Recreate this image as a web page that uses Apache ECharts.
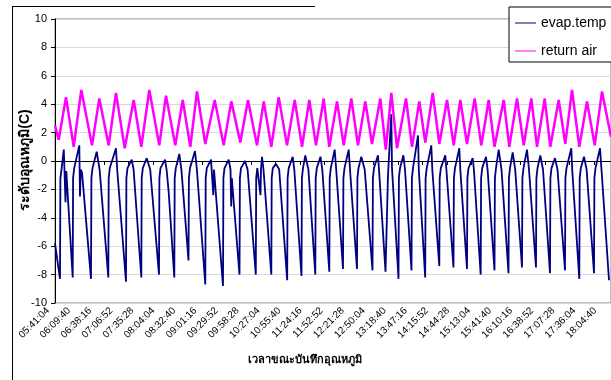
<!DOCTYPE html>
<html>
<head>
<meta charset="utf-8">
<script src="https://cdn.jsdelivr.net/npm/echarts@6/dist/echarts.min.js"></script>
<style>
  html, body { margin: 0; padding: 0; background: #fff; }
  #chart { width: 611px; height: 380px; }
</style>
</head>
<body>
<div id="chart"></div>
<script>
// x values are seconds elapsed since 05:41:04 (first printed time)
var labelStep = 1716 // 28:36 between printed times
var tickStep = 2002 // tick marks sit on their own spacing
var xEnd = 45414

var timeLabels = ['05:41:04', '06:09:40', '06:38:16', '07:06:52', '07:35:28', '08:04:04', '08:32:40',
  '09:01:16', '09:29:52', '09:58:28', '10:27:04', '10:55:40', '11:24:16', '11:52:52', '12:21:28',
  '12:50:04', '13:18:40', '13:47:16', '14:15:52', '14:44:28', '15:13:04', '15:41:40', '16:10:16',
  '16:38:52', '17:07:28', '17:36:04', '18:04:40']

var evapSec = [0, 408, 441, 531, 719, 858, 923, 1446, 1478, 1568, 1985, 2042, 2099, 2205,
  2940, 2973, 3063, 3406, 3643, 4354, 4386, 4476, 4982, 5080, 5799, 5832, 5922, 6265, 6420,
  7049, 7082, 7172, 7490, 7776, 8495, 8527, 8617, 8985, 9115, 9287, 9744, 9777, 9867, 10153, 10324,
  10904, 10937, 11027, 11435, 11590, 12276, 12309, 12399, 12742, 12930, 12987,
  13722, 13755, 13845, 14188, 14335, 14392, 14441, 15070, 15103, 15192, 15519, 15732,
  16401, 16434, 16524, 16785, 16826, 16908, 17030, 17667, 17700, 17790, 18051, 18313,
  18966, 18999, 19088, 19415, 19546, 20134, 20167, 20257, 20445, 20698,
  21261, 21294, 21384, 21686, 21833, 22405, 22438, 22527, 22846, 22968,
  23524, 23557, 23646, 23989, 24096, 24667, 24700, 24790, 25019, 25296,
  25933, 25966, 26056, 26383, 26464, 26995, 27199, 27469, 27526, 27608,
  28057, 28090, 28180, 28457, 28588, 29119, 29152, 29241, 29650, 29715,
  30238, 30271, 30361, 30736, 30818, 31390, 31422, 31512, 31880, 31969,
  32549, 32582, 32672, 33023, 33105, 33652, 33685, 33774, 34118, 34216,
  34771, 34804, 34894, 35204, 35335, 35898, 35931, 36021, 36241, 36470,
  37042, 37075, 37164, 37385, 37589, 38145, 38177, 38267, 38553, 38716,
  39288, 39321, 39411, 39640, 39860, 40432, 40464, 40554, 40840, 41044,
  41657, 41689, 41779, 42171, 42245, 42825, 42857, 42948, 43209, 43421,
  44026, 44058, 44148, 44516, 44638, 45251]
var evapTemp = [-5.8, -8.3, -1.2, -0.6, 0.8, -2.9, -0.7, -8.2, -1.2, -0.5, 1.1, -2.5, -0.6, -0.8,
  -8.3, -1.2, -0.5, 0.65, -0.6, -8.2, -1.2, -0.5, 0.9, -0.6, -8.5, -1.2, -0.5, 0.1, -0.6,
  -8.2, -1.2, -0.5, 0.2, -0.6, -8.0, -1.2, -0.5, 0.1, -0.6, -2.2, -8.2, -1.2, -0.5, 0.5, -0.6,
  -7.0, -1.2, -0.5, 0.7, -0.6, -8.7, -1.2, -0.5, 0.1, -2.4, -0.6,
  -8.8, -1.2, -0.5, 0.1, -0.6, -3.2, -1.2, -8.0, -1.2, -0.5, 0.0, -0.6,
  -8.0, -1.2, -0.5, -2.4, -0.6, 0.3, -0.6, -8.0, -1.2, -0.5, -0.2, -0.6,
  -8.4, -1.2, -0.5, 0.3, -0.6, -8.1, -1.2, -0.5, 0.4, -0.6,
  -8.0, -1.2, -0.5, 0.3, -0.6, -7.8, -1.2, -0.5, 0.8, -0.6,
  -7.6, -1.2, -0.5, 0.8, -0.6, -7.6, -1.2, -0.5, 0.3, -0.6,
  -7.7, -1.2, -0.5, 0.4, -0.6, -7.8, -1.0, 3.3, -0.5, -0.6,
  -8.3, -1.2, -0.5, 0.4, -0.6, -7.7, -1.2, -0.5, 1.8, -0.6,
  -8.2, -1.2, -0.5, 1.1, -0.6, -7.4, -1.2, -0.5, 0.4, -0.6,
  -7.5, -1.2, -0.5, 0.9, -0.6, -7.6, -1.2, -0.5, 0.2, -0.6,
  -8.0, -1.2, -0.5, 0.3, -0.6, -7.7, -1.2, -0.5, 0.8, -0.6,
  -7.9, -1.2, -0.5, 0.6, -0.6, -7.5, -1.2, -0.5, 0.8, -0.6,
  -7.5, -1.2, -0.5, 0.4, -0.6, -7.9, -1.2, -0.5, 0.2, -0.6,
  -7.7, -1.2, -0.5, 0.9, -0.6, -8.3, -1.2, -0.5, 0.3, -0.6,
  -7.9, -1.2, -0.5, 0.9, -0.6, -8.4]

var airSec = [0, 302, 898, 1527, 2148, 3022, 3618, 4386, 4982, 5693, 6428, 7049, 7703, 8519,
  9066, 9826, 10431, 11051, 11599, 12276, 13044, 13779, 14400, 15135, 15764, 16499, 17047,
  17667, 18272, 18950, 19579, 20175, 20771, 21318, 21947, 22405, 23034, 23581, 24202, 24749,
  25345, 25893, 26571, 27020, 27469, 27935, 28670, 29160, 29756, 30246, 30851, 31390, 32019,
  32566, 33105, 33652, 34281, 34820, 35425, 35898, 36650, 37107, 37736, 38284, 38904, 39370,
  39999, 40456, 41142, 41682, 42229, 42825, 43454, 44083, 44679, 45414]
var airTemp = [2.5, 1.5, 4.5, 1.0, 5.0, 1.1, 4.4, 1.1, 4.8, 0.9, 4.3, 1.0, 5.0, 1.1,
  4.6, 1.1, 4.3, 1.0, 4.9, 1.2, 4.3, 1.1, 4.2, 1.3, 4.3, 1.1, 4.2,
  1.0, 4.5, 1.1, 4.3, 1.0, 4.3, 1.1, 4.4, 1.0, 4.2, 1.1, 4.4, 1.1,
  4.2, 1.2, 4.4, 0.8, 4.8, 0.9, 4.4, 1.0, 4.2, 1.3, 4.8, 1.2, 4.3,
  1.1, 4.3, 1.2, 4.4, 1.1, 4.3, 1.0, 4.3, 1.0, 4.4, 1.1, 4.4, 1.0,
  4.4, 1.0, 4.3, 1.2, 5.0, 1.0, 4.2, 1.1, 4.9, 1.7]

function pairs(xs, ys) {
  var out = []
  for (var i = 0; i < xs.length; i++) out.push([xs[i], ys[i]])
  return out
}

function clockLabel(v) {
  var k = Math.round(v / labelStep)
  if (Math.abs(v - k * labelStep) > 1 || k >= timeLabels.length) return ''
  return timeLabels[k]
}

var latin = '"Liberation Sans", Arial, sans-serif'
var thaiFont = '"Liberation Sans", Arial, "DejaVu Sans", sans-serif'

var chart = echarts.init(document.getElementById('chart'))
chart.setOption({
  animation: false,
  backgroundColor: '#fff',
  grid: [{
    left: 55, right: -1, top: 19, bottom: 77,
    show: true, borderColor: '#808080', borderWidth: 1
  }, {
    // label-only grid, nudged left like the spreadsheet's slanted time labels
    left: 48, right: 6, top: 19, bottom: 77
  }],
  legend: {
    orient: 'vertical',
    left: 509, top: 7,
    padding: [9, 6, 4, 6],
    itemGap: 14,
    itemWidth: 21,
    itemHeight: 1,
    icon: 'rect',
    backgroundColor: '#fff',
    borderColor: '#000',
    borderWidth: 1,
    borderRadius: 0,
    textStyle: { color: '#000', fontSize: 14, fontFamily: latin },
    data: ['evap.temp', 'return air']
  },
  xAxis: [{
    type: 'value',
    gridIndex: 0,
    min: 0, max: xEnd,
    interval: tickStep,
    position: 'bottom',
    axisLine: { lineStyle: { color: '#000', width: 1 } },
    axisTick: { show: true, length: 4, lineStyle: { color: '#000' } },
    axisLabel: { show: false },
    splitLine: { show: false }
  }, {
    type: 'value',
    gridIndex: 1,
    min: 0, max: xEnd,
    interval: labelStep,
    position: 'bottom',
    axisLine: { show: false },
    axisTick: { show: false },
    splitLine: { show: false },
    axisLabel: {
      rotate: 45, fontSize: 10, color: '#000', margin: 6,
      fontFamily: latin,
      formatter: clockLabel
    }
  }],
  yAxis: [{
    type: 'value',
    gridIndex: 0,
    min: -10, max: 10, interval: 2,
    axisLine: { show: true, lineStyle: { color: '#000' } },
    axisTick: { show: true, length: 4, lineStyle: { color: '#000' } },
    axisLabel: { fontSize: 11, color: '#000', margin: 8, fontFamily: latin },
    splitLine: { lineStyle: { color: '#d9d9d9', width: 1 } }
  }, {
    type: 'value',
    gridIndex: 1,
    min: -10, max: 10,
    show: false
  }],
  graphic: [
    { type: 'line', shape: { x1: 12.5, y1: 6, x2: 12.5, y2: 380 }, style: { stroke: '#000', lineWidth: 1 } },
    { type: 'line', shape: { x1: 12, y1: 6.5, x2: 315, y2: 6.5 }, style: { stroke: '#000', lineWidth: 1 } },
    {
      type: 'text', x: 305, y: 360,
      style: { text: 'เวลาขณะบันทึกอุณหภูมิ', font: 'bold 11px ' + thaiFont, fill: '#000', textAlign: 'center', textVerticalAlign: 'middle' }
    },
    {
      type: 'text', x: 25, y: 160, rotation: Math.PI / 2,
      style: { text: 'ระดับอุณหภูมิ(C)', font: 'bold 14px ' + thaiFont, fill: '#000', textAlign: 'center', textVerticalAlign: 'middle' }
    }
  ],
  series: [{
    name: 'evap.temp',
    type: 'line',
    xAxisIndex: 0,
    yAxisIndex: 0,
    data: pairs(evapSec, evapTemp),
    showSymbol: false,
    symbol: 'none',
    lineStyle: { color: '#000080', width: 1.8 },
    itemStyle: { color: '#000080' }
  }, {
    name: 'return air',
    type: 'line',
    xAxisIndex: 0,
    yAxisIndex: 0,
    data: pairs(airSec, airTemp),
    showSymbol: false,
    symbol: 'none',
    lineStyle: { color: '#ff00ff', width: 2.5 },
    itemStyle: { color: '#ff00ff' }
  }]
})
</script>
</body>
</html>
